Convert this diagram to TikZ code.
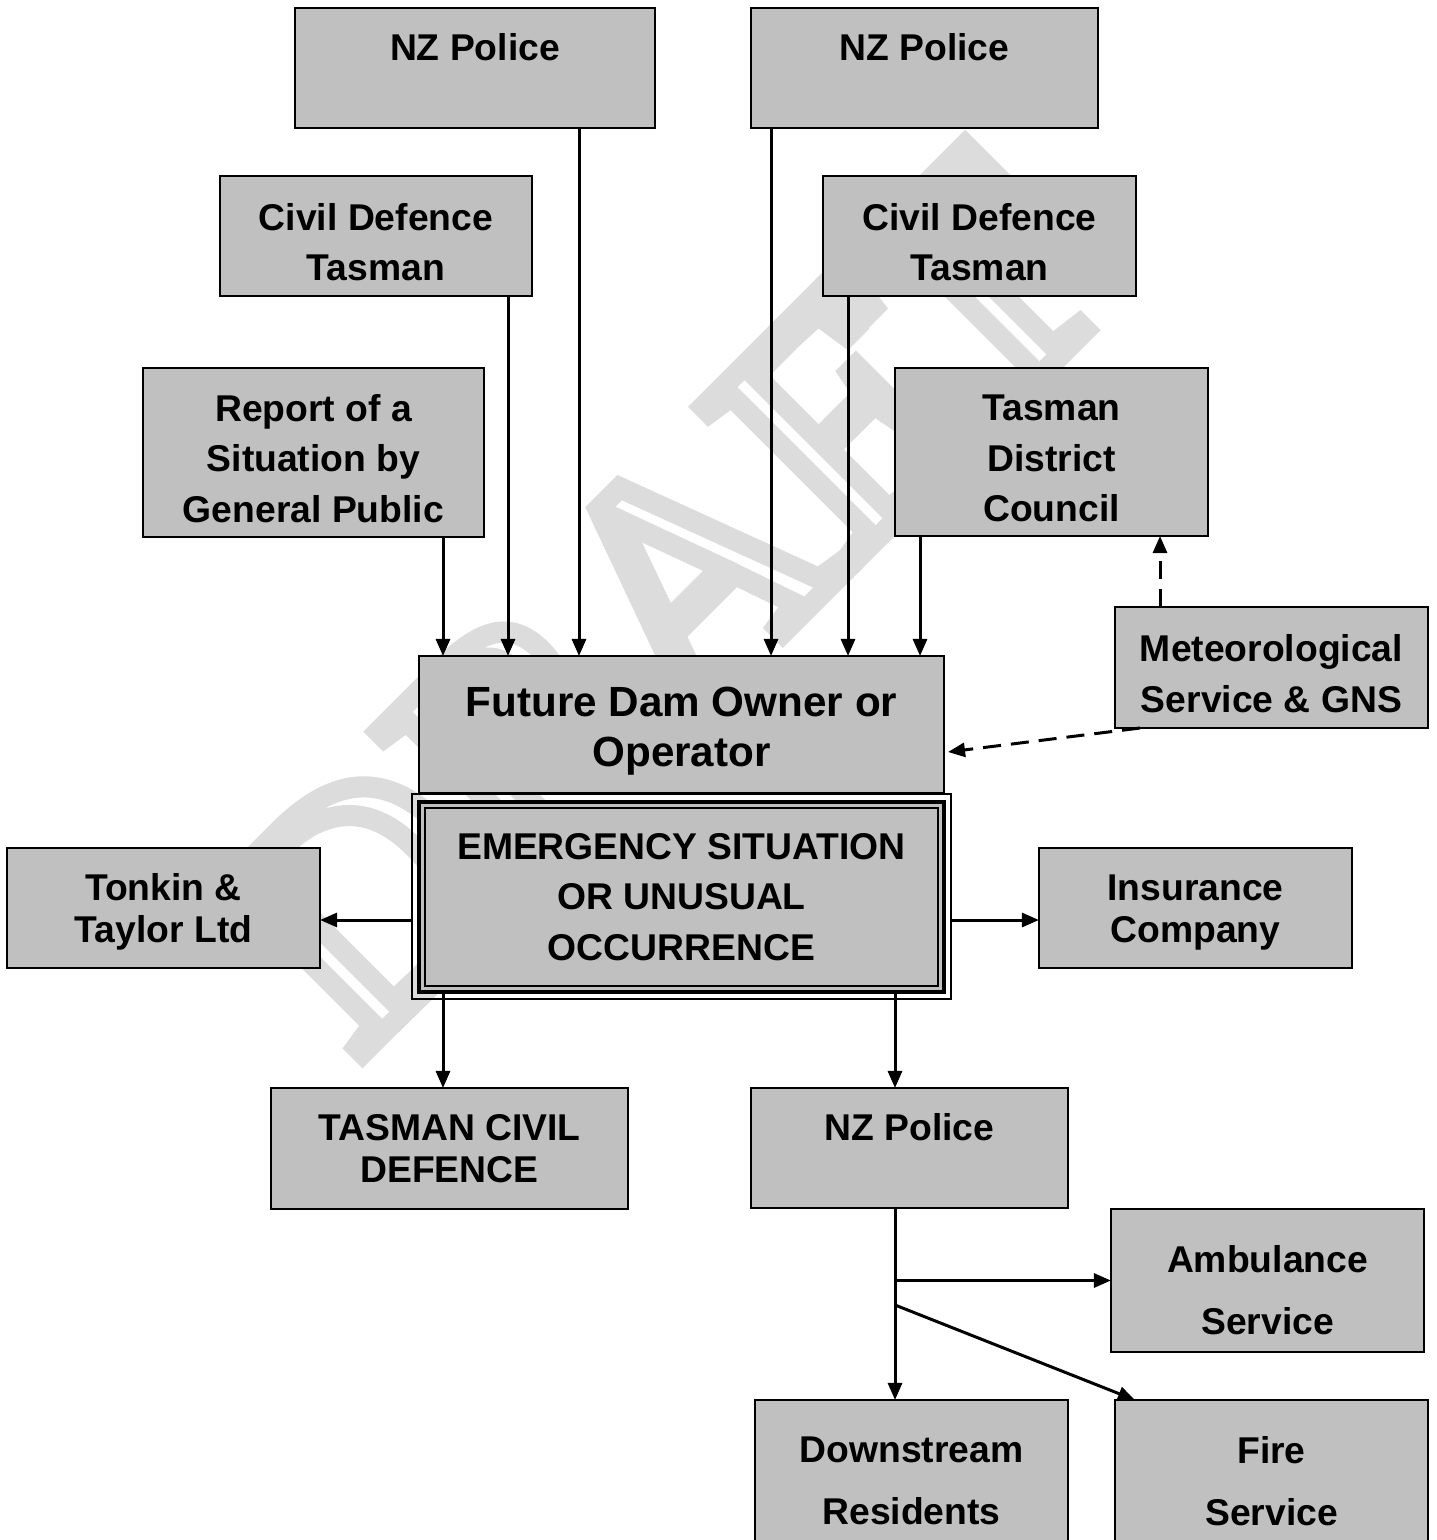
\documentclass[tikz,border=0pt]{standalone}
\usepackage{fontspec}
\setmainfont{Liberation Sans}
\newfontfamily\draftfont{Liberation Serif}
\usepackage{xcolor}
\usetikzlibrary{arrows.meta}

\definecolor{boxgrey}{RGB}{192,192,192}
\definecolor{draftgrey}{RGB}{220,220,220}
% taller first line pushes a box text down a little
\newcommand\lift[1]{\rule{0pt}{#1}}

\begin{document}
\begin{tikzpicture}[
    x=0.01cm, y=-0.01cm,
    box/.style={rectangle, draw, line width=0.6pt, fill=boxgrey, align=center, inner sep=0pt, outer sep=0pt,
                font=\bfseries\fontsize{10.6}{14.4}\selectfont},
    tight/.style={font=\bfseries\fontsize{10.6}{11.9}\selectfont},
    loose/.style={font=\bfseries\fontsize{10.6}{17.6}\selectfont},
    arrow/.style={-{Triangle[length=0.17cm, width=0.14cm]}, line width=0.85pt},
    hint/.style={arrow, dash pattern=on 0.18cm off 0.1cm}
]
\useasboundingbox (0,0) rectangle (1436,1540);

% Watermark (outlined letters)
\node[rotate=45, inner sep=0pt, text=draftgrey, font=\draftfont\fontsize{94}{94}\selectfont] (draft) at (662,600)
    {\special{pdf:literal direct 1 Tr 6 w}DRAFT\special{pdf:literal direct 0 Tr}};

% Who may raise the alarm
\node[box, tight, minimum width=3.60cm, minimum height=1.20cm] (polA) at (475,68) {NZ Police\\\mbox{}};
\node[box, tight, minimum width=3.47cm, minimum height=1.20cm] (polB) at (924.5,68) {NZ Police\\\mbox{}};
\node[box, minimum width=3.12cm, minimum height=1.20cm] (cdA) at (376,236) {\lift{0.39cm}Civil Defence\\Tasman};
\node[box, minimum width=3.13cm, minimum height=1.20cm] (cdB) at (979.5,236) {\lift{0.39cm}Civil Defence\\Tasman};
\node[box, minimum width=3.41cm, minimum height=1.69cm] (public) at (313.5,452.5) {\lift{0.39cm}Report of a\\Situation by\\General Public};
\node[box, minimum width=3.13cm, minimum height=1.68cm] (tdc) at (1051.5,452) {\lift{0.39cm}Tasman\\District\\Council};
\node[box, minimum width=3.13cm, minimum height=1.21cm] (met) at (1271.5,667.5) {\lift{0.39cm}Meteorological\\Service \& GNS};

% Owner and the emergency itself
\node[box, minimum width=5.24cm, minimum height=1.37cm, font=\bfseries\fontsize{12}{14.2}\selectfont] (owner) at (681.5,724.5) {\lift{0.43cm}Future Dam Owner or\\Operator};
\node[box, line width=1.2pt, minimum width=5.24cm, minimum height=1.90cm] (emerg) at (681.5,897) {EMERGENCY SITUATION\\OR UNUSUAL\\OCCURRENCE};
\draw[line width=0.6pt] ([shift={(-7,-8)}]emerg.north west) rectangle ([shift={(7,7)}]emerg.south east);
\draw[line width=0.6pt] ([shift={(6,6)}]emerg.north west) rectangle ([shift={(-6,-6)}]emerg.south east);

% Who gets told
\node[box, tight, minimum width=3.13cm, minimum height=1.20cm] (tonkin) at (163.5,908) {\lift{0.35cm}Tonkin \&\\Taylor Ltd};
\node[box, tight, minimum width=3.13cm, minimum height=1.20cm] (insur) at (1195.5,908) {\lift{0.35cm}Insurance\\Company};
\node[box, tight, minimum width=3.57cm, minimum height=1.21cm] (tcd) at (449.5,1148.5) {TASMAN CIVIL\\DEFENCE};
\node[box, tight, minimum width=3.17cm, minimum height=1.20cm] (polC) at (909.5,1148) {NZ Police\\\mbox{}};
\node[box, loose, minimum width=3.13cm, minimum height=1.43cm] (amb) at (1267.5,1280.5) {\lift{0.47cm}Ambulance\\Service};
\node[box, loose, minimum width=3.13cm, minimum height=1.62cm] (down) at (911.5,1481) {Downstream\\Residents};
\node[box, loose, minimum width=3.13cm, minimum height=1.62cm] (fire) at (1271.5,1481) {Fire\\Service};

% Columns and taps for the connectors
\coordinate (k1) at (443,0);
\coordinate (k2) at (508,0);
\coordinate (k3) at (579,0);
\coordinate (k4) at (771,0);
\coordinate (k5) at (848,0);
\coordinate (k6) at (920,0);
\coordinate (k7) at (1160,0);
\coordinate (k8) at (895,0);
\coordinate (tapL) at (412,920);
\coordinate (tapR) at (950,920);
\coordinate (metin) at (948,752);
\coordinate (fork) at (895,1305);

% Arrows into the owner
\draw[arrow] (k1 |- public.south) -- (k1 |- owner.north);
\draw[arrow] (k2 |- cdA.south) -- (k2 |- owner.north);
\draw[arrow] (k3 |- polA.south) -- (k3 |- owner.north);
\draw[arrow] (k4 |- polB.south) -- (k4 |- owner.north);
\draw[arrow] (k5 |- cdB.south) -- (k5 |- owner.north);
\draw[arrow] (k6 |- tdc.south) -- (k6 |- owner.north);
\draw[hint] (k7 |- met.north) -- (k7 |- tdc.south);
\draw[hint] ([xshift=0.25cm]met.south west) -- (metin);

% Arrows out of the emergency
\draw[arrow] (tapL) -- (tapL -| tonkin.east);
\draw[arrow] (tapR) -- (tapR -| insur.west);
\draw[arrow] (k1 |- emerg.south) -- (k1 |- tcd.north);
\draw[arrow] (k8 |- emerg.south) -- (k8 |- polC.north);

% Police call-outs
\draw[arrow] (k8 |- polC.south) -- (k8 |- down.north);
\draw[arrow] (k8 |- amb.west) -- (amb.west);
\draw[arrow] (fork) -- ([xshift=0.2cm]fire.north west);

\end{tikzpicture}
\end{document}
